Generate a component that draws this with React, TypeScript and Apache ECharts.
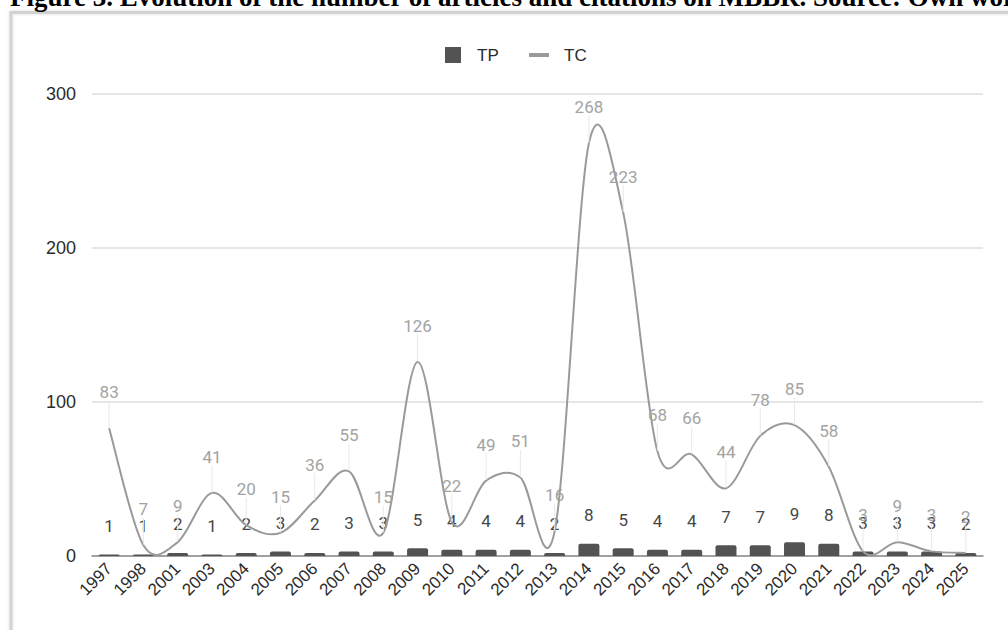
import React, { useEffect, useRef } from "react";
import * as echarts from "echarts";

const years = ["1997","1998","2001","2003","2004","2005","2006","2007","2008","2009","2010","2011","2012","2013","2014","2015","2016","2017","2018","2019","2020","2021","2022","2023","2024","2025"];
const tpValues = [1,1,2,1,2,3,2,3,3,5,4,4,4,2,8,5,4,4,7,7,9,8,3,3,3,2];
const tcValues = [83,7,9,41,20,15,36,55,15,126,22,49,51,16,268,223,68,66,44,78,85,58,3,9,3,2];
const yMin = 0;
const yMax = 300;
const yStep = 100;
const titleText = "Figure 3. Evolution of the number of articles and citations on MBBR. Source: Own work";
const seriesNames = ["TP", "TC"];

function catmullRomPath(pts: number[][]): string {
  if (pts.length === 0) return "";
  let d = `M${pts[0][0]},${pts[0][1]}`;
  for (let i = 0; i < pts.length - 1; i++) {
    const p0 = pts[i - 1] || pts[i];
    const p1 = pts[i];
    const p2 = pts[i + 1];
    const p3 = pts[i + 2] || p2;
    const c1x = p1[0] + (p2[0] - p0[0]) / 6;
    const c1y = p1[1] + (p2[1] - p0[1]) / 6;
    const c2x = p2[0] - (p3[0] - p1[0]) / 6;
    const c2y = p2[1] - (p3[1] - p1[1]) / 6;
    d += ` C${c1x},${c1y} ${c2x},${c2y} ${p2[0]},${p2[1]}`;
  }
  return d;
}

export default function App() {
  const ref = useRef<HTMLDivElement>(null);
  useEffect(() => {
    if (!ref.current) return;
    const chart = echarts.init(ref.current, null, { renderer: "svg" });
    chart.setOption({
      animation: false,
      backgroundColor: "#ffffff",
      grid: { left: 92, right: 25, top: 94, bottom: 74, containLabel: false },
      xAxis: {
        type: "category",
        data: years,
        boundaryGap: true,
        axisLine: { show: true, lineStyle: { color: "#8a8a8a", width: 1.5 } },
        axisTick: { show: false },
        axisLabel: {
          rotate: 45,
          interval: 0,
          margin: 10,
          color: "#2b2b2b",
          fontSize: 17,
          fontFamily: "Liberation Sans, Arial, sans-serif",
        },
      },
      yAxis: {
        type: "value",
        min: yMin,
        max: yMax,
        interval: yStep,
        axisLine: { show: false },
        axisTick: { show: false },
        splitLine: { lineStyle: { color: "#dedede", width: 1.5 } },
        axisLabel: {
          margin: 16,
          color: "#2b2b2b",
          fontSize: 18,
          fontFamily: "Liberation Sans, Arial, sans-serif",
        },
      },
      series: [
        {
          name: seriesNames[0],
          type: "bar",
          data: tpValues,
          barWidth: 21,
          itemStyle: { color: "#535353", borderRadius: [2, 2, 0, 0] },
          label: {
            show: true,
            position: "top",
            distance: 20,
            color: "#474747",
            fontSize: 17,
            fontFamily: "Roboto, Liberation Sans, sans-serif",
          },
          z: 2,
        },
        {
          name: seriesNames[1] + " curve",
          type: "custom",
          data: [0],
          clip: false,
          renderItem: (params: any, api: any) => {
            const pts = tcValues.map((v, i) => api.coord([i, v]));
            return {
              type: "path",
              shape: { pathData: catmullRomPath(pts) },
              style: { stroke: "#9a9a9a", lineWidth: 2, fill: "none" },
              silent: true,
            };
          },
          z: 3,
        },
        {
          name: seriesNames[1],
          type: "line",
          data: tcValues,
          showSymbol: true,
          symbol: "circle",
          symbolSize: 1,
          itemStyle: { color: "rgba(0,0,0,0)" },
          lineStyle: { width: 0, opacity: 0 },
          label: {
            show: true,
            position: "top",
            distance: 6,
            color: "#a3a3a3",
            fontSize: 17,
            fontFamily: "Roboto, Liberation Sans, sans-serif",
          },
          labelLayout: { dy: -21 },
          labelLine: { show: true, lineStyle: { color: "#e8e8e8", width: 1 } },
          z: 4,
        },
      ],
      graphic: [
        {
          type: "text",
          left: 10,
          top: -17,
          style: {
            text: titleText,
            fill: "#000000",
            font: "bold 27px 'Liberation Serif', 'Times New Roman', serif",
          },
          z: 10,
        },
        {
          type: "rect",
          shape: { x: 11, y: 12.5, width: 1200, height: 800 },
          style: { fill: "none", stroke: "#d2d2d2", lineWidth: 3, shadowBlur: 3, shadowColor: "rgba(0,0,0,0.15)" },
          z: 5,
          silent: true,
        },
        {
          type: "rect",
          shape: { x: 445, y: 47, width: 16, height: 16 },
          style: { fill: "#535353" },
        },
        {
          type: "text",
          x: 477,
          y: 55,
          style: {
            text: seriesNames[0],
            fill: "#2b2b2b",
            font: "17px 'Liberation Sans', Arial, sans-serif",
            verticalAlign: "middle",
          },
        },
        {
          type: "line",
          shape: { x1: 529, y1: 55, x2: 549, y2: 55 },
          style: { stroke: "#9a9a9a", lineWidth: 4 },
        },
        {
          type: "text",
          x: 564,
          y: 55,
          style: {
            text: seriesNames[1],
            fill: "#2b2b2b",
            font: "17px 'Liberation Sans', Arial, sans-serif",
            verticalAlign: "middle",
          },
        },
      ],
    });
    return () => chart.dispose();
  }, []);
  return (
    <div style={{ position: "absolute", left: 0, top: 0, width: 1008, height: 630, background: "#fff" }}>
      <div ref={ref} style={{ width: 1008, height: 630 }} />
    </div>
  );
}
